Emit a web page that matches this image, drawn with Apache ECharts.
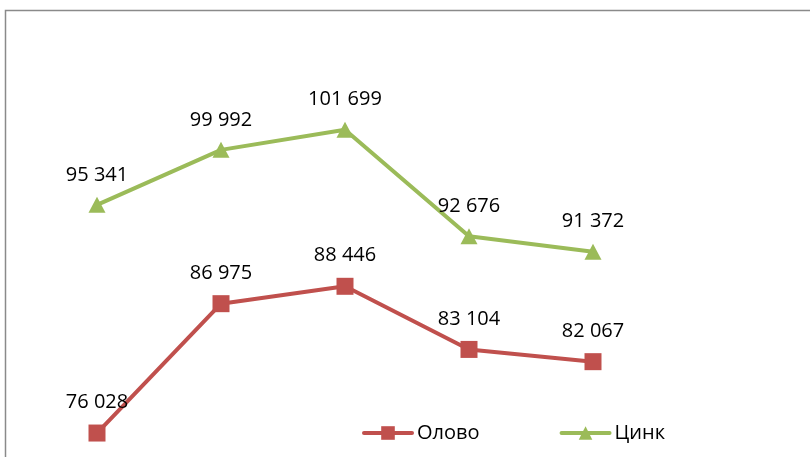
<!DOCTYPE html>
<html>
<head>
<meta charset="utf-8">
<script src="https://cdn.jsdelivr.net/npm/echarts@6/dist/echarts.min.js"></script>
<style>html,body{margin:0;padding:0;background:#fff}#c{width:810px;height:457px}</style>
</head>
<body>
<div id="c"></div>
<script>
const categories = ['1', '2', '3', '4', '5'];
const tinValues = [76028, 86975, 88446, 83104, 82067];
const zincValues = [95341, 99992, 101699, 92676, 91372];
const seriesNames = ['Олово', 'Цинк'];

const fmt = p => String(p.value).replace(/\B(?=(\d{3})+(?!\d))/g, ' ');
const FONT = 'Open Sans';
const chart = echarts.init(document.getElementById('c'), null, {renderer: 'canvas'});
chart.setOption({
  animation: false,
  backgroundColor: '#fff',
  graphic: [{
    type: 'rect', silent: true, z: -1,
    shape: {x: 5.5, y: 10.5, width: 900, height: 600},
    style: {fill: 'none', stroke: '#8a8a8a', lineWidth: 1.5}
  }],
  grid: {left: 35, width: 620, top: 102.5, height: 359.5},
  xAxis: {type: 'category', data: categories, boundaryGap: true, show: false},
  yAxis: {type: 'value', min: 74000, max: 104000, show: false},
  legend: {
    data: seriesNames, left: 357, top: 418, itemWidth: 48, itemHeight: 17, itemGap: 80,
    lineStyle: {width: 4, cap: 'round'},
    textStyle: {fontFamily: FONT, fontSize: 20, color: '#000'}
  },
  series: [{
    name: seriesNames[0], type: 'line', data: tinValues,
    symbol: 'rect', symbolSize: 17,
    lineStyle: {color: '#C0504D', width: 4},
    itemStyle: {color: '#C0504D'},
    label: {show: true, position: 'top', distance: 12, formatter: fmt,
      fontFamily: FONT, fontSize: 20, color: '#000'}
  }, {
    name: seriesNames[1], type: 'line', data: zincValues,
    symbol: 'triangle', symbolSize: [17, 16],
    lineStyle: {color: '#9BBB59', width: 4},
    itemStyle: {color: '#9BBB59'},
    label: {show: true, position: 'top', distance: 12, formatter: fmt,
      fontFamily: FONT, fontSize: 20, color: '#000'}
  }]
});
</script>
</body>
</html>
